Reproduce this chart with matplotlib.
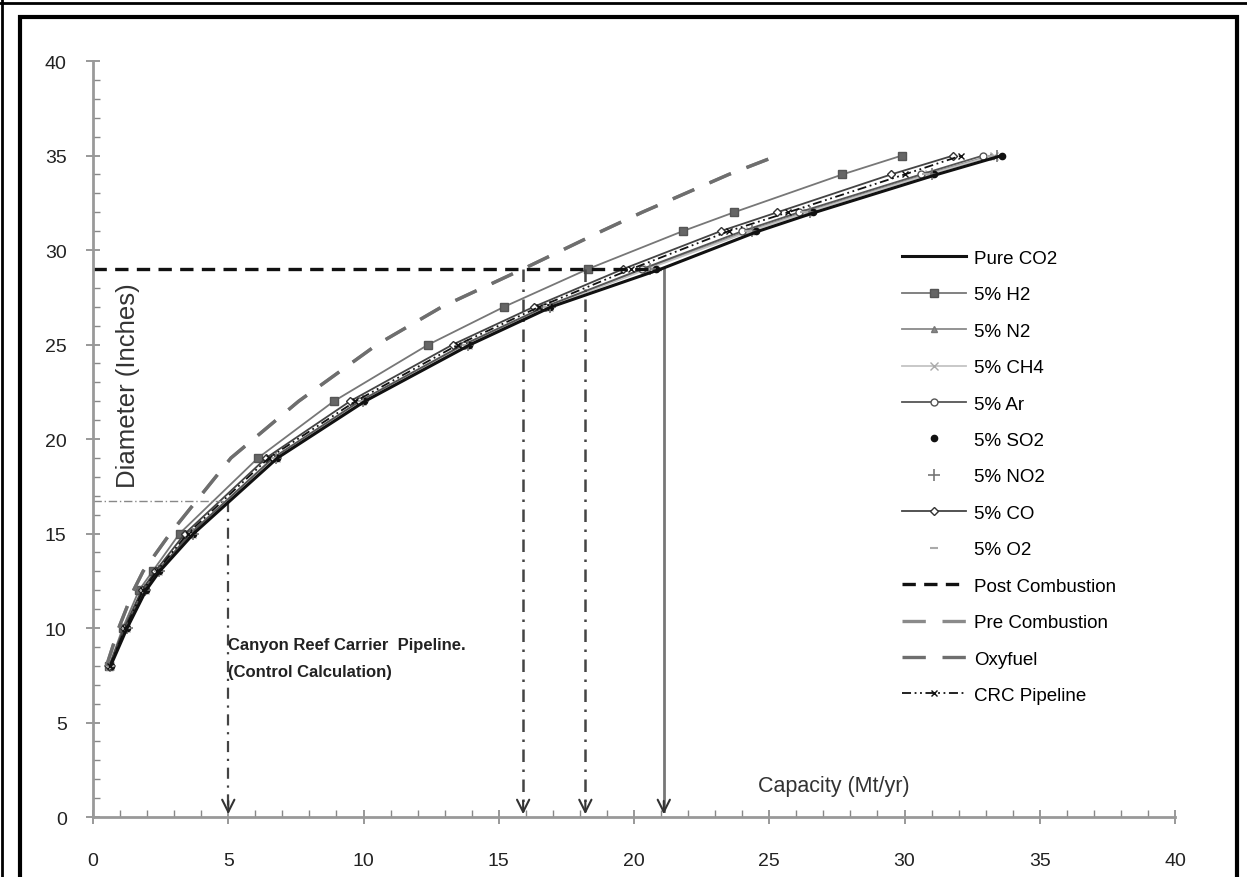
import numpy as np
import matplotlib.pyplot as plt
from matplotlib.lines import Line2D
from matplotlib.patches import Rectangle
from matplotlib.ticker import MultipleLocator

plt.rcParams['font.family'] = ['Liberation Sans Narrow', 'Liberation Sans', 'DejaVu Sans']

# pipe diameters (inches) and required capacity (Mt/yr) for each stream
diam = [8, 10, 12, 13, 15, 19, 22, 25, 27, 29, 31, 32, 34, 35]
pure_co2 = [0.65, 1.26, 1.96, 2.46, 3.72, 6.82, 10.05, 13.95, 16.95, 21.0, 24.6, 26.7, 31.2, 33.6]
h2 = [0.6, 1.1, 1.7, 2.2, 3.2, 6.1, 8.9, 12.4, 15.2, 18.3, 21.8, 23.7, 27.7, 29.9]
n2 = [0.63, 1.22, 1.9, 2.4, 3.6, 6.7, 9.9, 13.8, 16.8, 20.4, 24.2, 26.3, 30.8, 33.2]
ch4 = [0.64, 1.23, 1.92, 2.42, 3.65, 6.75, 9.95, 13.85, 16.85, 20.5, 24.3, 26.4, 30.9, 33.3]
ar = [0.62, 1.2, 1.88, 2.38, 3.6, 6.65, 9.85, 13.7, 16.7, 20.3, 24.0, 26.1, 30.6, 32.9]
so2 = [0.65, 1.25, 1.95, 2.45, 3.7, 6.8, 10.0, 13.9, 16.9, 20.8, 24.5, 26.6, 31.1, 33.6]
no2 = [0.64, 1.24, 1.93, 2.43, 3.68, 6.78, 9.98, 13.88, 16.88, 20.6, 24.35, 26.5, 31.0, 33.4]
co = [0.6, 1.15, 1.8, 2.3, 3.4, 6.4, 9.5, 13.3, 16.3, 19.6, 23.2, 25.3, 29.5, 31.8]
o2 = [0.63, 1.22, 1.9, 2.4, 3.62, 6.7, 9.9, 13.8, 16.8, 20.45, 24.2, 26.3, 30.8, 33.2]
crc = [0.62, 1.2, 1.85, 2.35, 3.5, 6.5, 9.7, 13.5, 16.5, 19.9, 23.5, 25.7, 30.0, 32.1]
pre_comb = [0.5, 0.95, 1.5, 1.85, 2.85, 5.1, 7.6, 10.5, 12.9, 15.9, 18.8, 20.3, 23.5, 25.3]
oxyfuel = [0.5, 0.95, 1.5, 1.85, 2.85, 5.1, 7.6, 10.5, 12.9, 15.9, 18.8, 20.3, 23.5, 25.3]

# post combustion design diameter
post_x = [0, 21.0]
post_y = [29, 29]

# control calculation for the Canyon Reef Carrier line
crc_cap = 5.0
crc_diam = 16.7

# read-off arrows down to the capacity axis
arrow_x = [15.9, 18.2]
arrow_top = 29
solid_arrow_x = 21.1

fig = plt.figure(figsize=(12.47, 8.78), dpi=100)
ax = fig.add_axes([0.0746, 0.0683, 0.8677, 0.861])

ax.plot(pure_co2, diam, color='#111111', lw=2.2, label='Pure CO2', zorder=5)
ax.plot(h2, diam, color='#777777', lw=1.3, marker='s', ms=6, mfc='#666666', mec='#555555', label='5% H2')
ax.plot(n2, diam, color='#8a8a8a', lw=1.3, marker='^', ms=5, mfc='#888888', mec='#777777', label='5% N2')
ax.plot(ch4, diam, color='#c4c4c4', lw=1.3, marker='x', ms=6, mec='#aaaaaa', label='5% CH4')
ax.plot(ar, diam, color='#555555', lw=1.3, marker='o', ms=5, mfc='white', mec='#555555', label='5% Ar')
ax.plot(so2, diam, ls='none', marker='o', ms=4.5, color='#111111', label='5% SO2')
ax.plot(no2, diam, ls='none', marker='+', ms=8, mew=1.2, color='#777777', label='5% NO2')
ax.plot(co, diam, color='#444444', lw=1.3, marker='D', ms=4.5, mfc='white', mec='#333333', label='5% CO')
ax.plot(o2, diam, ls='none', marker='_', ms=6, mew=1.5, color='#aaaaaa', label='5% O2')
ax.plot(post_x, post_y, color='#111111', lw=2.4, dashes=(4, 2.5), label='Post Combustion')
ax.plot(pre_comb, diam, color='#8a8a8a', lw=2.4, dashes=(7, 5), label='Pre Combustion')
ax.plot(oxyfuel, diam, color='#6e6e6e', lw=2.4, dashes=(7, 5), label='Oxyfuel')
ax.plot(crc, diam, color='#111111', lw=1.3, dashes=(5, 2, 1, 2, 1, 2), marker='x', ms=5,
        label='CRC Pipeline')

# guide lines for the read-offs
ax.plot([0, crc_cap], [crc_diam, crc_diam], color='#888888', lw=1, dashes=(6, 2, 1, 2))
ax.plot([crc_cap, crc_cap], [crc_diam, 0.3], color='#444444', lw=1.6, dashes=(5, 3, 1, 3))
for x in arrow_x:
    ax.plot([x, x], [arrow_top, 0.3], color='#444444', lw=1.8, dashes=(5, 3, 1, 3))
ax.plot([solid_arrow_x, solid_arrow_x], [arrow_top, 0.3], color='#777777', lw=2)
for x in [crc_cap] + arrow_x + [solid_arrow_x]:
    ax.annotate('', xy=(x, 0), xytext=(x, 1.0),
                arrowprops=dict(arrowstyle='->', color='#333333', lw=1.5, mutation_scale=22))

ax.text(crc_cap, 9.15, 'Canyon Reef Carrier  Pipeline.', fontsize=12, fontweight='bold',
        color='#222222', va='center', ha='left')
ax.text(crc_cap, 7.7, '(Control Calculation)', fontsize=12, fontweight='bold',
        color='#222222', va='center', ha='left')
ax.text(24.6, 1.65, 'Capacity (Mt/yr)', fontsize=15.5, color='#333333', va='center', ha='left')
ax.text(1.3, 22.9, 'Diameter (Inches)', fontsize=18.5, color='#333333', rotation=90,
        va='center', ha='center')

ax.set_xlim(0, 40)
ax.set_ylim(0, 40)
for s in ['top', 'right']:
    ax.spines[s].set_visible(False)
for s in ['left', 'bottom']:
    ax.spines[s].set_color('#999999')
    ax.spines[s].set_linewidth(2)
ax.xaxis.set_major_locator(MultipleLocator(5))
ax.yaxis.set_major_locator(MultipleLocator(5))
ax.xaxis.set_minor_locator(MultipleLocator(1))
ax.yaxis.set_minor_locator(MultipleLocator(1))
ax.tick_params(which='major', direction='inout', length=10, width=1.2, color='#888888',
               labelsize=14, labelcolor='#222222')
ax.tick_params(which='minor', direction='in', length=5, width=1, color='#888888')
ax.tick_params(axis='x', which='major', pad=20)
ax.tick_params(axis='y', which='major', pad=14)

ax.legend(loc='center left', bbox_to_anchor=(0.748, 0.45), frameon=False, fontsize=13.5,
          handlelength=3.4, handletextpad=0.4, labelspacing=1.03, borderaxespad=0,
          borderpad=0)

# outer frame and inner border
fig.add_artist(Line2D([0, 1], [0.996, 0.996], transform=fig.transFigure, color='black', lw=2))
fig.add_artist(Line2D([0.0016, 0.0016], [0, 1], transform=fig.transFigure, color='black', lw=2))
fig.add_artist(Rectangle((0.016, -0.01), 0.976, 0.99, transform=fig.transFigure,
                         fill=False, edgecolor='black', lw=3))

fig.savefig('out.png', dpi=100)
